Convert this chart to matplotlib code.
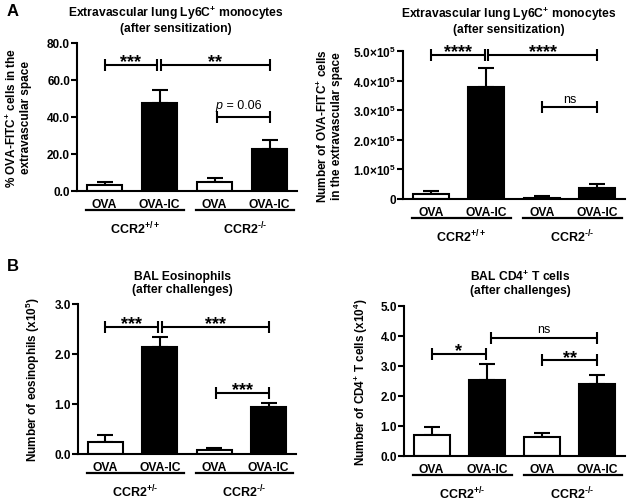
import matplotlib
matplotlib.use('Agg')
import matplotlib.pyplot as plt
import matplotlib.transforms as mtransforms
import numpy as np

plt.rcParams['font.family'] = ['Liberation Sans', 'DejaVu Sans']
plt.rcParams['font.weight'] = 'bold'
plt.rcParams['mathtext.fontset'] = 'custom'
plt.rcParams['mathtext.rm'] = 'Liberation Sans:bold'
plt.rcParams['mathtext.bf'] = 'Liberation Sans:bold'
plt.rcParams['mathtext.it'] = 'Liberation Sans:italic'

# data
conds = ['OVA', 'OVA-IC', 'OVA', 'OVA-IC']
fills = ['white', 'black', 'white', 'black']

mono_pct = [3.0, 47.5, 4.7, 22.5]
mono_pct_err = [1.5, 7.0, 2.3, 5.0]

mono_num = [0.18e5, 3.8e5, 0.05e5, 0.37e5]
mono_num_err = [0.10e5, 0.62e5, 0.05e5, 0.13e5]

eos = [0.24, 2.14, 0.09, 0.95]
eos_err = [0.14, 0.21, 0.03, 0.08]

cd4 = [0.70, 2.53, 0.62, 2.38]
cd4_err = [0.25, 0.54, 0.15, 0.32]

groups_a = ['CCR2$^{+/+}$', 'CCR2$^{\\text{-/-}}$']
groups_b = ['CCR2$^{+/\\text{-}}$', 'CCR2$^{\\text{-/-}}$']

W, H = 633, 502
fig = plt.figure(figsize=(W / 100, H / 100), dpi=100)


def px_axes(l, r, b, t):
    return fig.add_axes([l / W, 1 - b / H, (r - l) / W, (b - t) / H])


def bracket(ax, x1, x2, y, txt, fs=13, weight='bold', off=-1):
    ax.plot([x1, x2], [y, y], color='black', lw=1.5, marker='|', ms=8,
            mew=1.5, solid_capstyle='butt', clip_on=False)
    if txt:
        ax.annotate(txt, xy=((x1 + x2) / 2, y), xytext=(0, off),
                    textcoords='offset points', ha='center', va='baseline',
                    fontsize=fs, fontweight=weight)


def draw_panel(ax, vals, errs, ymax, yticks, ylabels, ylabel, groups,
               label_x, axw):
    x = np.arange(len(vals))
    ax.bar(x, vals, width=0.65, color=fills, edgecolor='black', lw=1.5,
           zorder=2)
    ax.errorbar(x, vals, yerr=[np.zeros(len(errs)), errs], fmt='none',
                ecolor='black', elinewidth=1.5, capsize=6, capthick=1.5,
                zorder=1)
    ax.set_xlim(-0.5, 3.5)
    ax.set_ylim(0, ymax)
    ax.set_yticks(yticks)
    ax.set_yticklabels(ylabels, fontsize=8.5, fontweight='bold')
    ax.set_xticks(x)
    ax.set_xticklabels(conds, fontsize=8.7, fontweight='bold')
    ax.tick_params(axis='x', length=0, pad=5)
    ax.tick_params(axis='y', length=4, width=1.5, pad=1)
    for s in ['top', 'right']:
        ax.spines[s].set_visible(False)
    for s in ['left', 'bottom']:
        ax.spines[s].set_linewidth(1.5)
    ax.set_ylabel(ylabel, fontsize=8.5, fontweight='bold', linespacing=1.1)
    ax.yaxis.set_label_coords(label_x / axw, 0.5)
    # group underline and labels
    trans = mtransforms.blended_transform_factory(ax.transData, ax.transAxes)
    line_t = trans + mtransforms.ScaledTranslation(0, -19 / 100, fig.dpi_scale_trans)
    for i, g in enumerate(groups):
        c1, c2 = 2 * i, 2 * i + 1
        ax.plot([c1 - 0.33, c2 + 0.45], [0, 0], color='black', lw=1.6,
                transform=line_t, clip_on=False)
        ax.annotate(g, xy=((c1 + c2) / 2 + 0.05, 0), xycoords=trans,
                    xytext=(0, -27), textcoords='offset points', ha='center',
                    va='center', fontsize=9, fontweight='bold')


# A left
ax1 = px_axes(77, 297, 191.7, 43.7)
draw_panel(ax1, mono_pct, mono_pct_err, 80, [0, 20, 40, 60, 80],
           ['0.0', '20.0', '40.0', '60.0', '80.0'],
           '% OVA-FITC$^{+}$ cells in the\nextravascular space',
           groups_a, -45, 220)
bracket(ax1, 0, 0.95, 68, '***')
bracket(ax1, 1.03, 3, 68, '**')
bracket(ax1, 2.05, 3, 40, '')
ax1.annotate('p', xy=(2.5, 40), xytext=(-14, 4), textcoords='offset points',
             ha='right', va='bottom', fontsize=9, fontweight='normal',
             fontstyle='italic')
ax1.annotate(' = 0.06', xy=(2.5, 40), xytext=(-14, 4),
             textcoords='offset points', ha='left', va='bottom', fontsize=9,
             fontweight='normal')

# A right
ax2 = px_axes(403, 625, 200, 52)
draw_panel(ax2, mono_num, mono_num_err, 5e5,
           [0, 1e5, 2e5, 3e5, 4e5, 5e5],
           ['0'] + ['%d.0\u00d710$^{5}$' % k for k in range(1, 6)],
           'Number of OVA-FITC$^{+}$ cells\nin the extravascular space',
           groups_a, -60, 222)
bracket(ax2, 0, 0.97, 4.88e5, '****')
bracket(ax2, 1.03, 3, 4.88e5, '****')
bracket(ax2, 2.0, 3, 3.1e5, 'ns', fs=9, weight='normal', off=4)

# B left
ax3 = px_axes(78, 296, 455, 305)
draw_panel(ax3, eos, eos_err, 3, [0, 1, 2, 3],
           ['0.0', '1.0', '2.0', '3.0'],
           'Number of eosinophils (x10$^{5}$)',
           groups_b, -36, 218)
bracket(ax3, 0, 0.96, 2.55, '***')
bracket(ax3, 1.04, 3, 2.55, '***')
bracket(ax3, 2.03, 3, 1.22, '***')

# B right
ax4 = px_axes(404, 625, 456.7, 307)
draw_panel(ax4, cd4, cd4_err, 5, [0, 1, 2, 3, 4, 5],
           ['0.0', '1.0', '2.0', '3.0', '4.0', '5.0'],
           'Number of CD4$^{+}$ T cells (x10$^{4}$)',
           groups_b, -34, 221)
bracket(ax4, 0, 0.98, 3.4, '*')
bracket(ax4, 1.08, 3, 3.93, 'ns', fs=9, weight='normal', off=4)
bracket(ax4, 2.0, 3, 3.18, '**')

# titles
fig.text(176 / W, 1 - 20 / H,
         'Extravascular lung Ly6C$^{+}$ monocytes\n(after sensitization)',
         ha='center', va='center', fontsize=8.7, fontweight='bold',
         linespacing=1.15)
fig.text(509 / W, 1 - 20.5 / H,
         'Extravascular lung Ly6C$^{+}$ monocytes\n(after sensitization)',
         ha='center', va='center', fontsize=8.7, fontweight='bold',
         linespacing=1.15)
fig.text(182 / W, 1 - 283.5 / H, 'BAL Eosinophils\n(after challenges)',
         ha='center', va='center', fontsize=8.7, fontweight='bold',
         linespacing=1.15)
fig.text(520 / W, 1 - 283.5 / H, 'BAL CD4$^{+}$ T cells\n(after challenges)',
         ha='center', va='center', fontsize=8.7, fontweight='bold',
         linespacing=1.15)
fig.text(7 / W, 1 - 12 / H, 'A', ha='left', va='center', fontsize=12,
         fontweight='bold')
fig.text(7 / W, 1 - 267 / H, 'B', ha='left', va='center', fontsize=12,
         fontweight='bold')

fig.savefig('out.png', dpi=100)
